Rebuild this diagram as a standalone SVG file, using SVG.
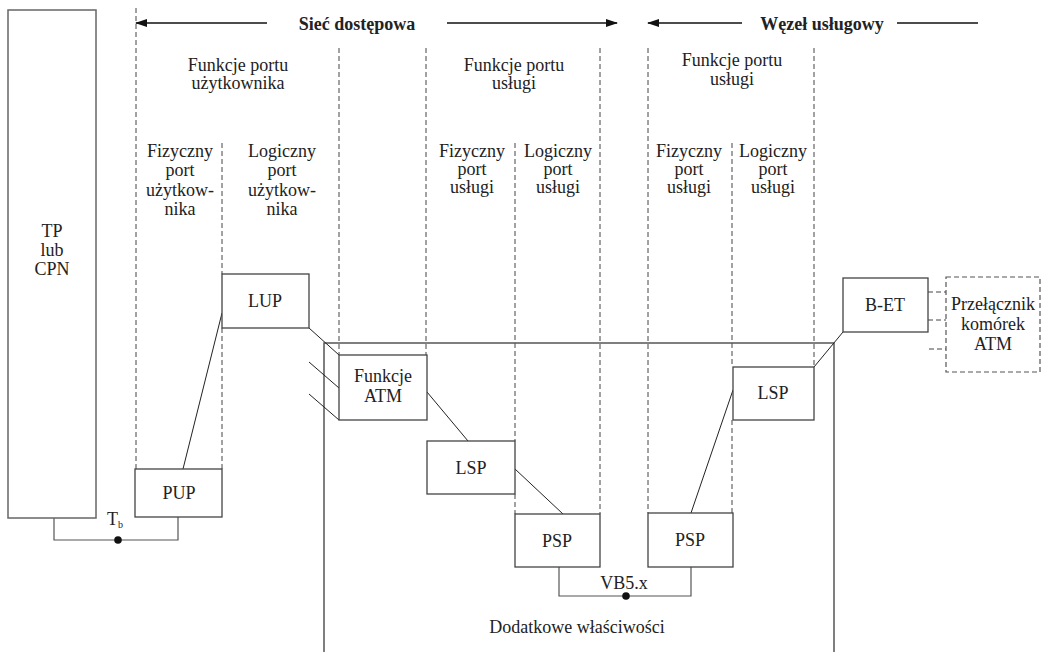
<svg xmlns="http://www.w3.org/2000/svg" width="1045" height="652" viewBox="0 0 1045 652">
<style>
  text { font-family: 'Liberation Serif', 'DejaVu Serif', serif; font-size: 18px; fill: #222; text-anchor: middle; }
  .bold { font-weight: bold; }
  .box { fill: #fff; stroke: #444; stroke-width: 1.3; }
  .dbox { fill: #fff; stroke: #555; stroke-width: 1.2; stroke-dasharray: 5,3; }
  .dash { fill: none; stroke: #444; stroke-width: 1; stroke-dasharray: 5,3; }
  .line { fill: none; stroke: #222; stroke-width: 1; }
  .frame { fill: none; stroke: #555; stroke-width: 1.5; }
  .arrow { fill: none; stroke: #111; stroke-width: 1.3; }
</style>
<defs>
  <marker id="ah" markerWidth="12" markerHeight="8" refX="11" refY="4" orient="auto" markerUnits="userSpaceOnUse">
    <path d="M0,0 L12,4 L0,8 Z" fill="#111"/>
  </marker>
</defs>

<rect width="1045" height="652" fill="#fff"/>

<!-- dashed column separators -->
<g id="columns">
  <line class="dash" x1="136" y1="8" x2="136" y2="469"/>
  <line class="dash" x1="222" y1="143" x2="222" y2="274"/>
  <line class="dash" x1="222" y1="328" x2="222" y2="469"/>
  <line class="dash" x1="339" y1="48" x2="339" y2="355"/>
  <line class="dash" x1="426" y1="48" x2="426" y2="355"/>
  <line class="dash" x1="515" y1="143" x2="515" y2="441"/>
  <line class="dash" x1="515" y1="494" x2="515" y2="514"/>
  <line class="dash" x1="600" y1="48" x2="600" y2="514"/>
  <line class="dash" x1="648" y1="48" x2="648" y2="513"/>
  <line class="dash" x1="732" y1="143" x2="732" y2="367"/>
  <line class="dash" x1="732" y1="420" x2="732" y2="513"/>
  <line class="dash" x1="814" y1="48" x2="814" y2="367"/>
</g>

<g font-family="Liberation Serif, DejaVu Serif, serif">
<!-- header arrows -->
<g id="header">
  <line class="arrow" x1="267" y1="23" x2="136" y2="23" marker-end="url(#ah)"/>
  <text class="bold" x="357" y="30">Sieć dostępowa</text>
  <line class="arrow" x1="447" y1="23" x2="617" y2="23" marker-end="url(#ah)"/>
  <line class="arrow" x1="742" y1="23" x2="648" y2="23" marker-end="url(#ah)"/>
  <text class="bold" x="822" y="30">Węzeł usługowy</text>
  <line class="arrow" x1="897" y1="23" x2="978" y2="23"/>
</g>

<!-- column labels -->
<g id="labels">
  <text x="238" y="71">Funkcje portu</text>
  <text x="238" y="89">użytkownika</text>
  <text x="180" y="157">Fizyczny</text>
  <text x="180" y="176">port</text>
  <text x="180" y="196">użytkow-</text>
  <text x="180" y="215">nika</text>
  <text x="282" y="157">Logiczny</text>
  <text x="282" y="176">port</text>
  <text x="282" y="196">użytkow-</text>
  <text x="282" y="215">nika</text>

  <text x="514" y="71">Funkcje portu</text>
  <text x="514" y="89">usługi</text>
  <text x="472" y="157">Fizyczny</text>
  <text x="472" y="175">port</text>
  <text x="472" y="193">usługi</text>
  <text x="558" y="157">Logiczny</text>
  <text x="558" y="175">port</text>
  <text x="558" y="193">usługi</text>

  <text x="732" y="66">Funkcje portu</text>
  <text x="732" y="85">usługi</text>
  <text x="689" y="157">Fizyczny</text>
  <text x="689" y="175">port</text>
  <text x="689" y="193">usługi</text>
  <text x="773" y="157">Logiczny</text>
  <text x="773" y="175">port</text>
  <text x="773" y="193">usługi</text>

  <text x="577" y="633">Dodatkowe właściwości</text>
</g>

<!-- connectors -->
<g id="connectors">
  <!-- access node frame (open at bottom) -->
  <polyline class="frame" points="324,652 324,343 834,343 834,652"/>
  <line class="line" x1="222" y1="313" x2="183" y2="469"/>
  <line class="line" x1="309" y1="328" x2="339" y2="355"/>
  <line class="line" x1="309" y1="362" x2="339" y2="388"/>
  <line class="line" x1="309" y1="394" x2="339" y2="420"/>
  <line class="line" x1="427" y1="392" x2="468" y2="441"/>
  <line class="line" x1="515" y1="469" x2="563" y2="514"/>
  <line class="line" x1="733" y1="390" x2="691" y2="513"/>
  <line class="line" x1="843" y1="332" x2="814" y2="367"/>
  <!-- Tb -->
  <polyline class="frame" style="stroke-width:1.2" points="54,518 54,540 178,540 178,517"/>
  <circle cx="118" cy="540" r="3.8" fill="#111"/>
  <text x="115" y="525">T<tspan font-size="10" dy="3">b</tspan></text>
  <!-- VB5.x -->
  <polyline class="frame" style="stroke-width:1.2" points="559,567 559,596 691,596 691,567"/>
  <circle cx="626" cy="596" r="3.8" fill="#111"/>
  <text x="624" y="589">VB5.x</text>
  <!-- dashed stubs to ATM switch -->
  <line class="dash" x1="928" y1="292" x2="946" y2="292"/>
  <line class="dash" x1="928" y1="320" x2="946" y2="320"/>
  <line class="dash" x1="929" y1="349" x2="946" y2="349"/>
</g>

<!-- nodes -->
<g id="tp">
  <rect class="box" x="8" y="10" width="88" height="508" style="stroke:#666;stroke-width:1.5"/>
  <text x="52" y="237">TP</text>
  <text x="52" y="256">lub</text>
  <text x="52" y="275">CPN</text>
</g>
<g id="lup">
  <rect class="box" x="222" y="274" width="87" height="54"/>
  <text x="265" y="307">LUP</text>
</g>
<g id="pup">
  <rect class="box" x="135" y="469" width="87" height="48"/>
  <text x="179" y="499">PUP</text>
</g>
<g id="funkcje-atm">
  <rect class="box" x="339" y="355" width="88" height="65"/>
  <text x="383" y="382">Funkcje</text>
  <text x="383" y="402">ATM</text>
</g>
<g id="lsp-left">
  <rect class="box" x="427" y="441" width="88" height="53"/>
  <text x="471" y="474">LSP</text>
</g>
<g id="psp-left">
  <rect class="box" x="515" y="514" width="85" height="53"/>
  <text x="557" y="547">PSP</text>
</g>
<g id="psp-right">
  <rect class="box" x="648" y="513" width="85" height="54"/>
  <text x="690" y="546">PSP</text>
</g>
<g id="lsp-right">
  <rect class="box" x="733" y="367" width="81" height="53"/>
  <text x="773" y="399">LSP</text>
</g>
<g id="b-et">
  <rect class="box" x="843" y="278" width="85" height="54"/>
  <text x="885" y="311">B-ET</text>
</g>
<g id="atm-switch">
  <rect class="dbox" x="946" y="277" width="94" height="95"/>
  <text x="993" y="310">Przełącznik</text>
  <text x="993" y="330">komórek</text>
  <text x="993" y="350">ATM</text>
</g>
</g>
</svg>
